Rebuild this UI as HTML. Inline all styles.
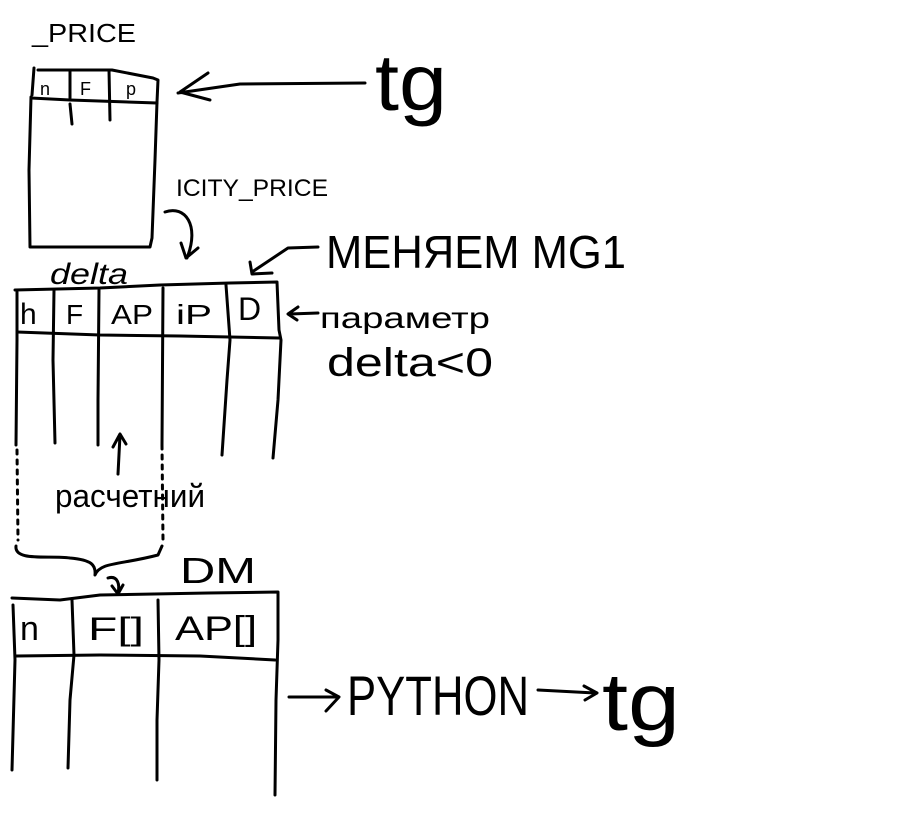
<!DOCTYPE html>
<html><head><meta charset="utf-8"><style>
html,body{margin:0;padding:0;background:#fff;}
svg{display:block;}
text{font-family:"Liberation Sans","DejaVu Sans",sans-serif;fill:#000;}
</style></head><body>
<svg width="912" height="827" viewBox="0 0 912 827" xmlns="http://www.w3.org/2000/svg">
<g fill="none" stroke="#000" stroke-width="3" stroke-linecap="round" stroke-linejoin="round">
<!-- top table -->
<path d="M34,68 L32,95 M31,97 L29,170 L30,247 L150,247 L152,238 L155,160 L157,102 L158,80 L153,78 L112,70 L38,70"/>
<path d="M31,98 L70,100 L157,103"/>
<path d="M70,70 L70,98 M70,104 L72,124 M109,70 L110,120"/>
<!-- arrow to top table -->
<path d="M365,83 L240,84 L178,93 M208,73 L180,92 L210,100"/>
<!-- curved arrow -->
<path d="M165,212 C185,205 200,225 187,258 M181,243 L186,258 L198,248"/>
<!-- arrow from MENYAEM -->
<path d="M318,247 L288,248 L252,272 M250,262 L252,274 L272,273"/>
<!-- middle table -->
<path d="M15,290 L100,288 L160,285 L230,283 L277,282 L279,330 L281,340 L278,400 L273,458"/>
<path d="M17,292 L17,340 L16,445"/>
<path d="M17,332 L100,335 L180,336 L279,338"/>
<path d="M54,290 L53,360 L55,443"/>
<path d="M99,290 L98,400 L98,445"/>
<path d="M163,288 L162,445"/>
<path d="M226,285 L230,340 L227,380 L222,455"/>
<!-- dotted lines -->
<path d="M17,450 L18,540 M162,445 L163,540" stroke-dasharray="4,6"/>
<!-- up arrow -->
<path d="M118,474 L120,435 M113,447 L120,434 L126,444"/>
<!-- arrow to D -->
<path d="M318,313 L290,314 M298,307 L288,314 L297,320"/>
<!-- brace -->
<path d="M16,546 C14,562 50,555 70,558 C92,560 96,565 95,575 C100,562 120,565 158,555 L162,546"/>
<path d="M108,578 C118,575 120,585 118,593 M112,586 L118,594 L123,585"/>
<!-- bottom table -->
<path d="M12,598 L60,600 L100,595 L208,593 L278,592 L278,640 L276,700 L275,795"/>
<path d="M13,605 L15,660 L12,770"/>
<path d="M72,600 L74,655 L70,700 L68,768"/>
<path d="M158,600 L159,660 L157,720 L157,780"/>
<path d="M16,656 L100,655 L200,656 L275,660"/>
<!-- python arrows -->
<path d="M289,697 L338,697 M326,690 L339,697 L326,711"/>
<path d="M538,690 L595,693 M584,686 L597,693 L585,700"/>
</g>
<text x="32" y="42" font-size="26" textLength="104" lengthAdjust="spacingAndGlyphs">_PRICE</text>
<text x="40" y="95" font-size="18">n</text>
<text x="80" y="95" font-size="18">F</text>
<text x="126" y="95" font-size="18">p</text>
<text x="375" y="110" font-size="80" textLength="72" lengthAdjust="spacingAndGlyphs">tg</text>
<text x="176" y="196" font-size="24" textLength="152" lengthAdjust="spacingAndGlyphs">ICITY_PRICE</text>
<text x="326" y="268" font-size="46" textLength="300" lengthAdjust="spacingAndGlyphs">МЕНЯЕМ МG1</text>
<text x="50" y="284" font-size="30" font-style="italic" textLength="78" lengthAdjust="spacingAndGlyphs">delta</text>
<text x="20" y="324" font-size="30">h</text>
<text x="66" y="324" font-size="28">F</text>
<text x="111" y="324" font-size="28" textLength="42" lengthAdjust="spacingAndGlyphs">AP</text>
<text x="176" y="324" font-size="28" textLength="36" lengthAdjust="spacingAndGlyphs">iP</text>
<text x="238" y="320" font-size="32">D</text>
<text x="320" y="328" font-size="30" textLength="170" lengthAdjust="spacingAndGlyphs">параметр</text>
<text x="327" y="376" font-size="40" textLength="166" lengthAdjust="spacingAndGlyphs">delta&lt;0</text>
<text x="55" y="507" font-size="32" textLength="150" lengthAdjust="spacingAndGlyphs">расчетний</text>
<text x="180" y="583" font-size="36" textLength="76" lengthAdjust="spacingAndGlyphs">DM</text>
<text x="20" y="640" font-size="34">n</text>
<text x="88" y="640" font-size="32" textLength="56" lengthAdjust="spacingAndGlyphs">F[]</text>
<text x="175" y="640" font-size="34" textLength="82" lengthAdjust="spacingAndGlyphs">AP[]</text>
<text x="347" y="715" font-size="56" textLength="182" lengthAdjust="spacingAndGlyphs">PYTHON</text>
<text x="602" y="730" font-size="82" textLength="78" lengthAdjust="spacingAndGlyphs">tg</text>
</svg>
</body></html>
